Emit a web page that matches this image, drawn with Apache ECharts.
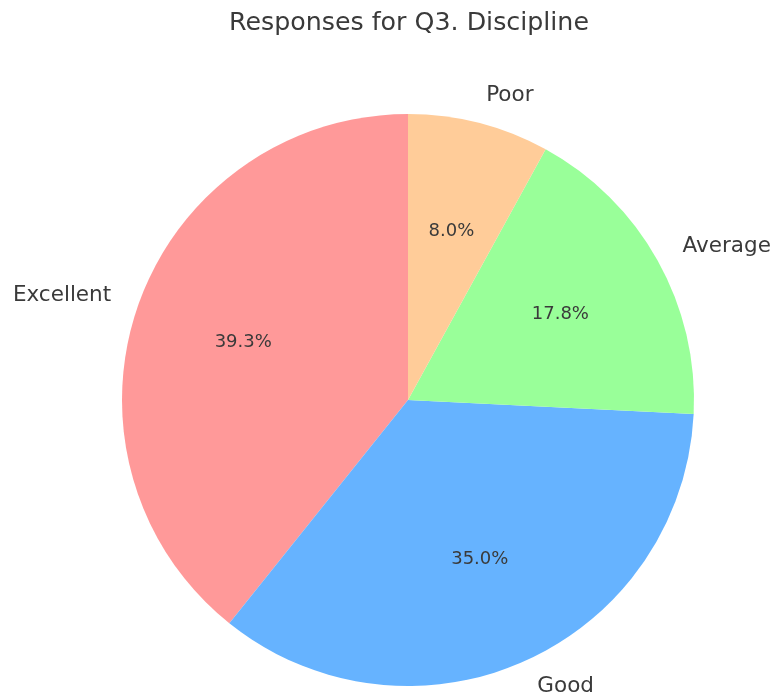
<!DOCTYPE html>
<html>
<head>
<meta charset="utf-8">
<script src="https://cdn.jsdelivr.net/npm/echarts@6/dist/echarts.min.js"></script>
<style>
  html, body { margin: 0; padding: 0; background: #fff; }
  #chart { width: 776px; height: 698px; }
</style>
</head>
<body>
<div id="chart"></div>
<script>
// data
const categories = ['Excellent', 'Good', 'Average', 'Poor']
const shares = [39.3, 35.0, 17.8, 8.0]
const sliceColors = ['#ff9999', '#66b3ff', '#99ff99', '#ffcc99']

const R = 286
const CENTER = [408, 400]
const FONT = 'DejaVu Sans'
const TEXT = '#3a3a3a'

const chart = echarts.init(document.getElementById('chart'))

const pieData = categories.map((name, i) => ({
  name: name,
  value: shares[i],
  itemStyle: { color: sliceColors[i] }
}))

const option = {
  animation: false,
  title: {
    // centred over the pie, not the page
    text: 'Responses for Q3. Discipline',
    left: 224,
    top: 6,
    textStyle: { fontFamily: FONT, fontSize: 25.3, fontWeight: 'normal', color: TEXT }
  },
  series: [
    {
      // the pie itself, category names just outside
      type: 'pie',
      center: CENTER,
      radius: [0, R],
      startAngle: 90,
      clockwise: false,
      avoidLabelOverlap: false,
      silent: true,
      data: pieData,
      label: {
        show: true,
        position: 'outside',
        distanceToLabelLine: 0,
        fontFamily: FONT,
        fontSize: 21.5,
        color: TEXT,
        formatter: '{b}'
      },
      labelLine: { show: false, length: R * 0.1, length2: 0 }
    },
    {
      // invisible ring only for the percentage texts at 0.6 r
      type: 'pie',
      center: CENTER,
      radius: [0, R * 1.2],
      startAngle: 90,
      clockwise: false,
      silent: true,
      data: categories.map((name, i) => ({ name: name, value: shares[i] })),
      itemStyle: { color: 'rgba(0,0,0,0)', borderWidth: 0 },
      label: {
        show: true,
        position: 'inside',
        fontFamily: FONT,
        fontSize: 18,
        color: TEXT,
        formatter: p => p.value.toFixed(1) + '%'
      },
      labelLine: { show: false }
    }
  ]
}

chart.setOption(option)
</script>
</body>
</html>
